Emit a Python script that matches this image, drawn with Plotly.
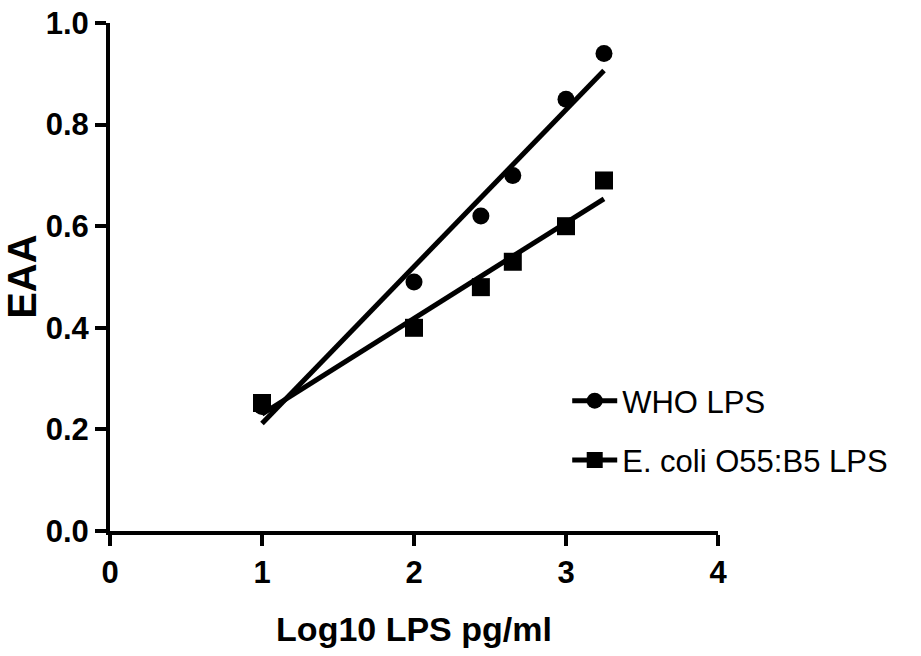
import numpy as np
import plotly.graph_objects as go

# Data
log_lps = [1.0, 2.0, 2.44, 2.65, 3.0, 3.25]
who_eaa = [0.245, 0.49, 0.62, 0.70, 0.85, 0.94]
ecoli_eaa = [0.252, 0.40, 0.48, 0.53, 0.60, 0.69]
series_names = ["WHO LPS", "E. coli O55:B5 LPS"]
x_ticks = [0, 1, 2, 3, 4]
y_ticks = [0.0, 0.2, 0.4, 0.6, 0.8, 1.0]
x_title = "Log10 LPS pg/ml"
y_title = "EAA"

FONT = "Liberation Sans, Arial"

fig = go.Figure()

def fit_line(x, y):
    k, b = np.polyfit(x, y, 1)
    xs = [min(x), max(x)]
    return xs, [k * v + b for v in xs]

symbols = ["circle", "square"]
sizes = [17, 18]
for i, (name, ys, sym, sz) in enumerate(zip(series_names, [who_eaa, ecoli_eaa], symbols, sizes)):
    fx, fy = fit_line(log_lps, ys)
    fig.add_trace(go.Scatter(x=fx, y=fy, mode="lines", line=dict(color="black", width=5),
                             showlegend=False, hoverinfo="skip"))
    fig.add_trace(go.Scatter(x=log_lps, y=ys, mode="markers",
                             marker=dict(symbol=sym, size=sz, color="black"),
                             showlegend=False, name=name))
    # legend entry
    fig.add_trace(go.Scatter(x=[None], y=[None], mode="lines+markers", name=name,
                             legendgroup=f"g{i}",
                             line=dict(color="black", width=5),
                             marker=dict(symbol=sym, size=sz, color="black")))

fig.add_annotation(text=y_title, textangle=-90, xref="paper", yref="paper",
                   x=-0.145, y=0.5, xanchor="center", yanchor="middle", showarrow=False,
                   font=dict(family=FONT, size=40, color="black", weight="bold"))

fig.update_layout(
    width=921, height=656,
    paper_bgcolor="white", plot_bgcolor="white",
    margin=dict(l=110, r=203, t=23, b=125),
    showlegend=True,
    legend=dict(x=0.752, y=0.309, xanchor="left", yanchor="top",
                font=dict(family=FONT, size=31, color="black"),
                bgcolor="rgba(0,0,0,0)", tracegroupgap=16, itemsizing="trace",
                itemwidth=45),
    xaxis=dict(range=[0, 4], tickvals=x_ticks, ticktext=[str(v) for v in x_ticks],
               automargin=False, ticklabeloverflow="allow",
               showgrid=False, zeroline=False, showline=True, linecolor="black", linewidth=4,
               ticks="outside", ticklen=11, tickwidth=4, tickcolor="black",
               tickfont=dict(family=FONT, size=31, color="black", weight="bold"),
               title=dict(text=x_title, standoff=29,
                          font=dict(family=FONT, size=34, color="black", weight="bold"))),
    yaxis=dict(range=[0, 1.0], tickvals=y_ticks, ticktext=[f"{v:.1f}" for v in y_ticks],
               automargin=False, ticklabeloverflow="allow",
               showgrid=False, zeroline=False, showline=True, linecolor="black", linewidth=4,
               ticks="outside", ticklen=11, tickwidth=4, tickcolor="black",
               tickfont=dict(family=FONT, size=31, color="black", weight="bold")),
)

fig.write_html("out.html", config={"displayModeBar": False},
               post_script="document.body.style.margin='0';")
